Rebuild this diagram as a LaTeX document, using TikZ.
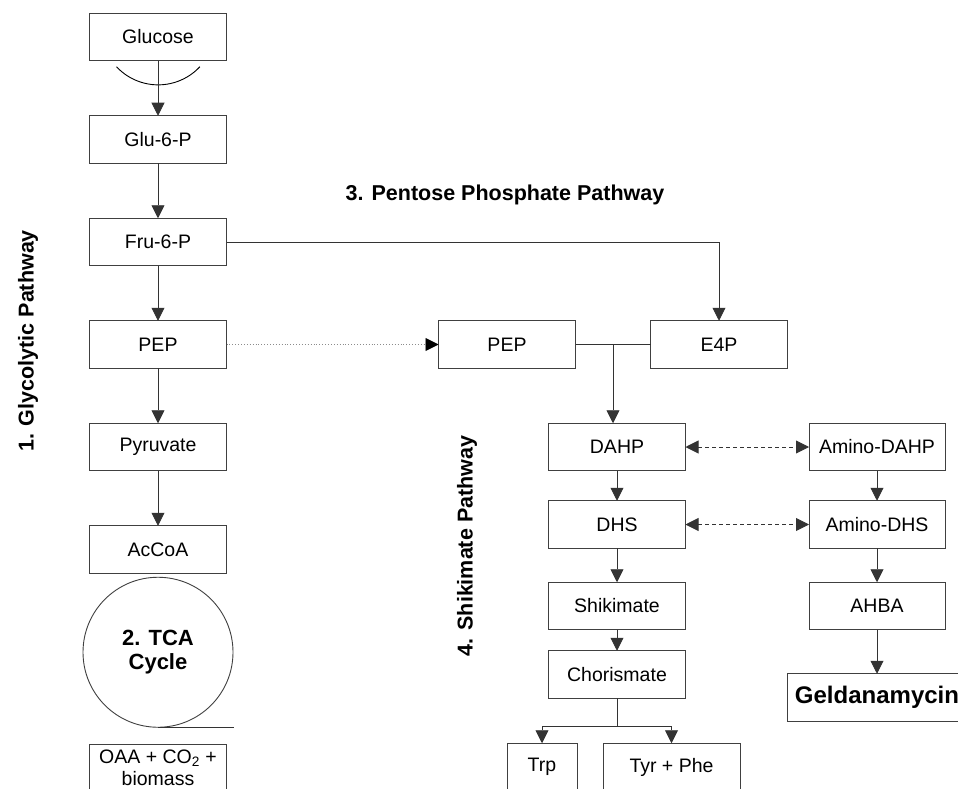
\documentclass[tikz,border=0pt]{standalone}
\usepackage{fontspec}
\setmainfont{Liberation Sans}
\usetikzlibrary{arrows.meta, positioning, calc}

\begin{document}
\begin{tikzpicture}[
    x=1pt, y=-1pt,
    >={Triangle[length=13pt, width=13pt]},
    line width=0.9pt,
    % Styles
    box/.style={draw=black!75, minimum width=#1, minimum height=47.5pt, inner sep=0pt, outer sep=0pt, font=\fontsize{19.5}{22}\selectfont, align=center},
    box/.default=137pt,
    cycle/.style={draw=black!75, circle, minimum size=150pt, inner sep=0pt, outer sep=0pt, font=\fontsize{22}{24}\selectfont\bfseries, align=center},
    arrow/.style={->, draw=black!80},
    link/.style={<->, draw=black!80, dash pattern=on 4pt off 3pt},
    feed/.style={-{Triangle[length=13pt, width=13pt, color=black]}, draw=black!45, dotted},
    pathlabel/.style={font=\fontsize{21.5}{24}\selectfont\bfseries},
]
\useasboundingbox (0,0) rectangle (958,789);

% ── 1. Glycolytic pathway ──
\node[box] (glucose) at (158,37) {Glucose};
\node[box, below=55pt of glucose] (g6p) {Glu-6-P};
\node[box, below=55pt of g6p] (f6p) {Fru-6-P};
\node[box, below=55pt of f6p] (pep) {PEP};
\node[box, below=55pt of pep] (pyr) {Pyruvate};
\node[box, below=55pt of pyr] (accoa) {AcCoA};

\draw (glucose.south) ++(-41.5,6) arc[start angle=137, end angle=43, radius=57];
\draw[arrow] (glucose) -- (g6p);
\draw[arrow] (g6p) -- (f6p);
\draw[arrow] (f6p) -- (pep);
\draw[arrow] (pep) -- (pyr);
\draw[arrow] (pyr) -- (accoa);

% ── 2. TCA cycle ──
\node[cycle, below=4pt of accoa] (tca) {2. TCA\\Cycle};
\node[box, below=17pt of tca] (oaa) {OAA + CO\textsubscript{2} +\\biomass};
\draw[draw=black!80] (tca.south) -- ++(76,0);

% ── 3. Pentose phosphate pathway ──
\node[box, right=212pt of pep] (pep2) {PEP};
\node[box, right=75pt of pep2] (e4p) {E4P};
\coordinate (join) at ($(pep2.east)!0.5!(e4p.west)$);

\draw[feed] (pep) -- (pep2);
\draw[arrow] (f6p) -| (e4p);
\draw[draw=black!80] (pep2) -- (e4p);

% ── 4. Shikimate pathway ──
\node[box] (dahp) at (617,447) {DAHP};
\node[box, below=30pt of dahp] (dhs) {DHS};
\node[box, below=34pt of dhs] (shik) {Shikimate};
\node[box, below=21pt of shik] (chor) {Chorismate};
\coordinate (branch) at ($(chor.south)+(0,28)$);
\node[box=70pt] (trp) at (542,767) {Trp};
\node[box] (tyrphe) at (671.5,767) {Tyr + Phe};

\draw[arrow] (join) -- (join |- dahp.north);
\draw[arrow] (dahp) -- (dhs);
\draw[arrow] (dhs) -- (shik);
\draw[arrow] (shik) -- (chor);
\draw[draw=black!80] (chor) -- (branch);
\draw[arrow] (branch) -| (trp);
\draw[arrow] (branch) -| (tyrphe);

% ── Amino branch ──
\node[box=136pt] (adahp) at (877,447) {Amino-DAHP};
\node[box=136pt, below=30pt of adahp] (adhs) {Amino-DHS};
\node[box=136pt, below=34pt of adhs] (ahba) {AHBA};
\node[box=180pt, below=44pt of ahba, font=\fontsize{24}{26}\selectfont\bfseries] (gdm) {Geldanamycin};

\draw[link] (dahp) -- (adahp);
\draw[link] (dhs) -- (adhs);
\draw[arrow] (adahp) -- (adhs);
\draw[arrow] (adhs) -- (ahba);
\draw[arrow] (ahba) -- (gdm);

% ── Pathway labels ──
\node[pathlabel, rotate=90] (glylabel) at (28,341) {1. Glycolytic Pathway};
\node[pathlabel] (ppplabel) at (505,195) {3. Pentose Phosphate Pathway};
\node[pathlabel, rotate=90] (shklabel) at (467,546) {4. Shikimate Pathway};

\end{tikzpicture}
\end{document}
